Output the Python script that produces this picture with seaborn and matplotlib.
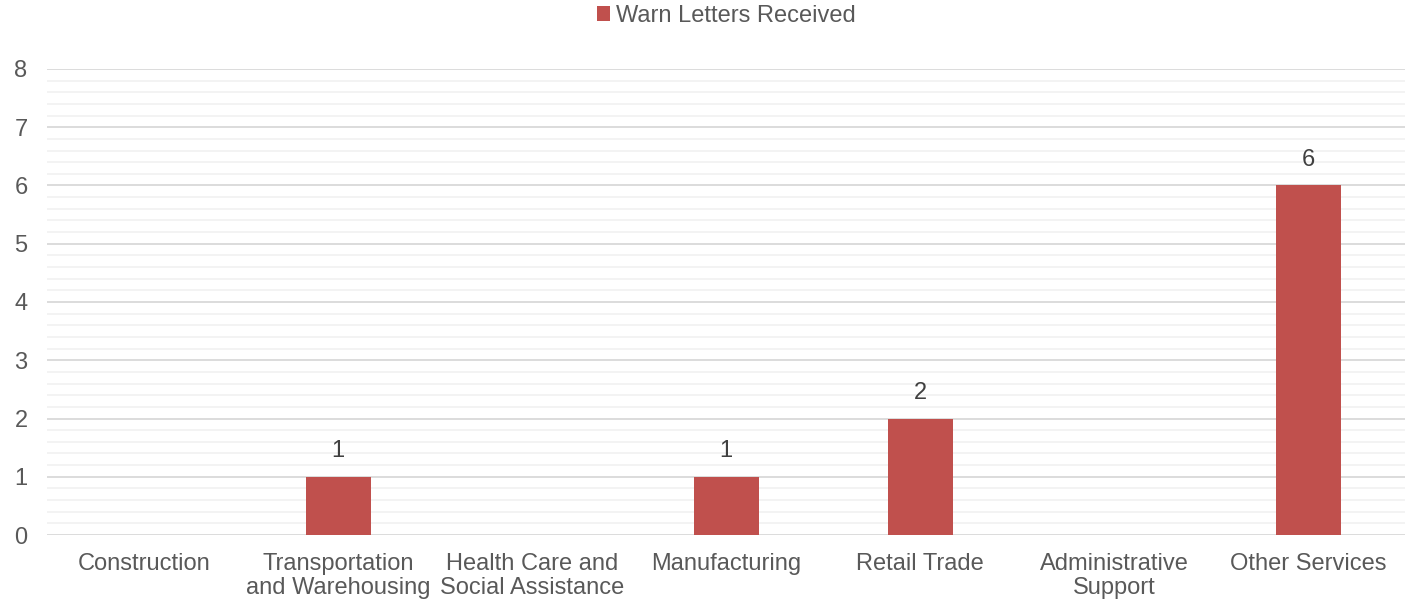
import pandas as pd
import numpy as np
import matplotlib.pyplot as plt
import seaborn as sns
from matplotlib.ticker import MultipleLocator

# Data
categories = ["Construction", "Transportation\nand Warehousing", "Health Care and\nSocial Assistance",
              "Manufacturing", "Retail Trade", "Administrative\nSupport", "Other Services"]
letters = [0, 1, 0, 1, 2, 0, 6]
series_name = "Warn Letters Received"

df = pd.DataFrame({"category": categories, "value": letters})

sns.set_theme(style="white")
plt.rcParams['font.family'] = ['Liberation Sans', 'DejaVu Sans']
text_color = "#595959"
bar_color = "#C0504D"

fig = plt.figure(figsize=(14.15, 6.04), dpi=100)
ax = fig.add_axes([0.0332, 0.1142, 0.9598, 0.7716])

sns.barplot(data=df, x="category", y="value", color=bar_color, width=0.335,
            saturation=1, linewidth=0, ax=ax, label=series_name)

ax.set_ylim(0, 8)
ax.set_xlim(-0.5, len(categories) - 0.5)
ax.yaxis.set_major_locator(MultipleLocator(1))
ax.yaxis.set_minor_locator(MultipleLocator(0.2))
ax.grid(which="major", axis="y", color="#D9D9D9", linewidth=1.3)
ax.grid(which="minor", axis="y", color="#F2F2F2", linewidth=1.3)
ax.set_axisbelow(True)
for s in ax.spines.values():
    s.set_visible(False)
ax.tick_params(axis="both", which="both", length=0, labelsize=17, labelcolor=text_color)
ax.tick_params(axis="y", pad=14)
ax.tick_params(axis="x", pad=13)
for lbl in ax.get_xticklabels():
    lbl.set_linespacing(1.12)
ax.set_xlabel("")
ax.set_ylabel("")

for i, v in enumerate(letters):
    if v > 0:
        ax.text(i, v + 0.25, str(v), ha="center", va="bottom", fontsize=17, color="#404040")

leg = ax.legend(loc="lower center", bbox_to_anchor=(0.5, 1.045), frameon=False, fontsize=17,
                handlelength=0.55, handleheight=0.55, handletextpad=0.25, labelcolor=text_color)

fig.savefig("out.png", dpi=100)
